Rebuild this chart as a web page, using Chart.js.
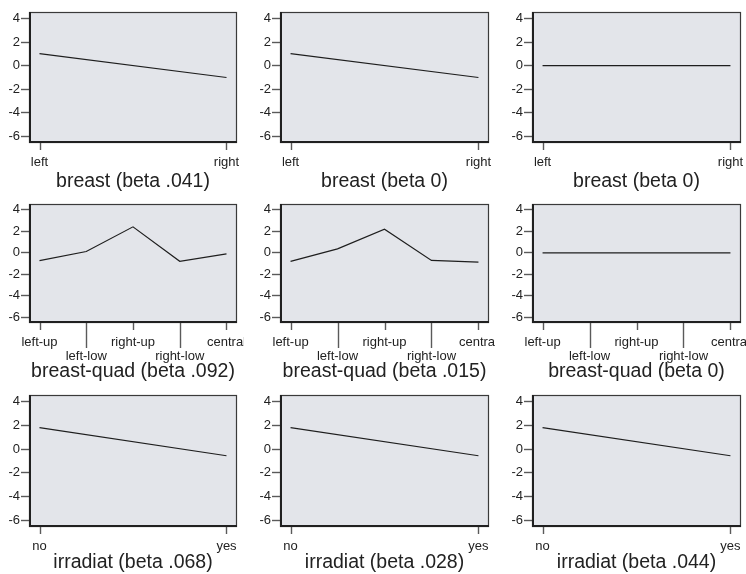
<!DOCTYPE html>
<html>
<head>
<meta charset="utf-8">
<script src="https://cdn.jsdelivr.net/npm/chart.js@4"></script>
<style>
  html, body { margin: 0; padding: 0; background: #ffffff; }
  #grid { position: relative; width: 746px; height: 574px; overflow: hidden; }
  #grid canvas { position: absolute; }
</style>
</head>
<body>
<div id="grid"></div>
<script>
// Category labels of each attribute
const breastCategories = ['left', 'right'];
const quadCategories = ['left-up', 'left-low', 'right-up', 'right-low', 'central'];
const irradiatCategories = ['no', 'yes'];

// Effect curves, one array per panel (three models side by side)
const breastValues = [
  [1.02, -1.0],
  [1.02, -1.0],
  [0, 0]
];
const quadValues = [
  [-0.74, 0.12, 2.42, -0.8, -0.1],
  [-0.8, 0.36, 2.2, -0.71, -0.88],
  [0, 0, 0, 0, 0]
];
const irradiatValues = [
  [1.8, -0.56],
  [1.8, -0.56],
  [1.8, -0.56]
];

// Panel captions
const breastTitles = ['breast (beta .041)', 'breast (beta 0)', 'breast (beta 0)'];
const quadTitles = ['breast-quad (beta .092)', 'breast-quad (beta .015)', 'breast-quad (beta 0)'];
const irradiatTitles = ['irradiat (beta .068)', 'irradiat (beta .028)', 'irradiat (beta .044)'];

// Shared value axis
const yTicks = [-6, -4, -2, 0, 2, 4];
const yMin = -6.55;
const yMax = 4.55;

const FONT = "'Liberation Sans', Arial, Helvetica, sans-serif";
const TEXT = '#222222';

// Grid geometry (canvas cells and plot-box margins)
const columns = [
  { left: 0,   width: 244, axisWidth: 29, right: 7 },
  { left: 249, width: 246, axisWidth: 31, right: 6 },
  { left: 497, width: 249, axisWidth: 35, right: 5 }
];
const rowsLayout = [
  { top: 0,   height: 192, padTop: 12, axisHeight: 49, titlePad: 0.3 },
  { top: 192, height: 192, padTop: 12, axisHeight: 61, titlePad: 2.6 },
  { top: 384, height: 190, padTop: 11, axisHeight: 47, titlePad: 1.3 }
];

const panels = [
  { categories: breastCategories, values: breastValues, titles: breastTitles },
  { categories: quadCategories, values: quadValues, titles: quadTitles },
  { categories: irradiatCategories, values: irradiatValues, titles: irradiatTitles }
];

// Fill, frame and category tick marks of each panel
const panelFrame = {
  id: 'panelFrame',
  beforeDatasetsDraw(chart) {
    const { ctx, chartArea: a } = chart;
    ctx.save();
    ctx.fillStyle = '#e3e5ea';
    ctx.fillRect(a.left, a.top, a.right - a.left, a.bottom - a.top);
    ctx.restore();
  },
  afterDraw(chart, args, opts) {
    const { ctx, chartArea: a } = chart;
    const xs = chart.scales.x;
    ctx.save();
    // category ticks (staggered when labels alternate rows)
    ctx.strokeStyle = '#5a5a5a';
    ctx.lineWidth = 1.4;
    opts.categories.forEach((c, i) => {
      const px = Math.round(xs.getPixelForValue(i)) + 0.5;
      const len = (opts.stagger && i % 2 === 1) ? 25 : 7;
      ctx.beginPath();
      ctx.moveTo(px, a.bottom);
      ctx.lineTo(px, a.bottom + len);
      ctx.stroke();
    });
    // frame
    ctx.strokeStyle = '#3a3a3a';
    ctx.lineWidth = 1.2;
    ctx.strokeRect(a.left + 0.5, a.top + 0.5, a.right - a.left - 1, a.bottom - a.top - 1);
    ctx.strokeStyle = '#202020';
    ctx.lineWidth = 2;
    ctx.beginPath();
    ctx.moveTo(a.left + 1, a.top);
    ctx.lineTo(a.left + 1, a.bottom - 1);
    ctx.lineTo(a.right, a.bottom - 1);
    ctx.stroke();
    ctx.restore();
  }
};

const grid = document.getElementById('grid');

panels.forEach((panel, r) => {
  const row = rowsLayout[r];
  const n = panel.categories.length;
  // keep end points ~10px inside the frame
  const inset = 0.0505;
  const pad = inset * (n - 1) / (1 - 2 * inset);
  const stagger = n > 3;

  columns.forEach((col, c) => {
    const canvas = document.createElement('canvas');
    canvas.width = col.width;
    canvas.height = row.height;
    canvas.style.left = col.left + 'px';
    canvas.style.top = row.top + 'px';
    canvas.style.width = col.width + 'px';
    canvas.style.height = row.height + 'px';
    grid.appendChild(canvas);

    new Chart(canvas, {
      type: 'line',
      data: {
        datasets: [{
          data: panel.values[c].map((v, i) => ({ x: i, y: v })),
          borderColor: '#1e1e1e',
          borderWidth: 1.2,
          pointRadius: 0,
          tension: 0,
          fill: false
        }]
      },
      options: {
        responsive: false,
        animation: false,
        devicePixelRatio: 1,
        layout: { padding: { top: row.padTop, right: col.right, left: 0, bottom: 0 } },
        plugins: {
          legend: { display: false },
          tooltip: { enabled: false },
          panelFrame: { categories: panel.categories, stagger: stagger }
        },
        scales: {
          x: {
            type: 'linear',
            min: -pad,
            max: n - 1 + pad,
            grid: { display: false, drawTicks: false },
            border: { display: false },
            afterBuildTicks: (scale) => {
              scale.ticks = panel.categories.map((_, i) => ({ value: i }));
            },
            afterFit: (scale) => {
              scale.height = row.axisHeight;
              scale.paddingLeft = 0;
              scale.paddingRight = 0;
            },
            ticks: {
              autoSkip: false,
              maxRotation: 0,
              minRotation: 0,
              padding: 13,
              color: TEXT,
              font: { family: FONT, size: 13, lineHeight: 1.04 },
              callback: (value) => {
                const label = panel.categories[value];
                return (stagger && value % 2 === 1) ? ['', label] : label;
              }
            },
            title: {
              display: true,
              text: panel.titles[c],
              color: TEXT,
              font: { family: FONT, size: 19.5, lineHeight: 1 },
              padding: { top: 0, bottom: row.titlePad }
            }
          },
          y: {
            min: yMin,
            max: yMax,
            grid: {
              display: true,
              drawOnChartArea: false,
              drawTicks: true,
              tickLength: 8,
              tickColor: '#5a5a5a',
              tickWidth: 1.4
            },
            border: { display: false },
            afterBuildTicks: (scale) => {
              scale.ticks = yTicks.map(v => ({ value: v }));
            },
            afterFit: (scale) => {
              scale.width = col.axisWidth;
            },
            ticks: {
              padding: 1,
              color: TEXT,
              font: { family: FONT, size: 13 },
              callback: (value) => String(value)
            }
          }
        }
      },
      plugins: [panelFrame]
    });
  });
});
</script>
</body>
</html>
